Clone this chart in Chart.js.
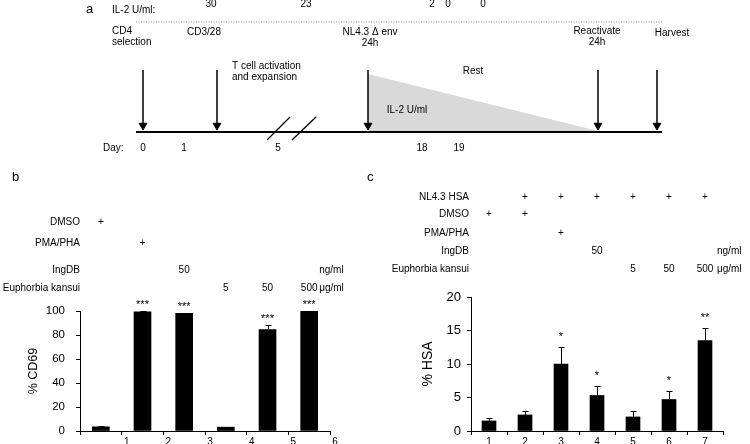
<!DOCTYPE html>
<html lang="en">
<head>
<meta charset="UTF-8">
<title>CD69 / HSA</title>
<script src="https://cdn.jsdelivr.net/npm/chart.js"></script>
<style>
  body { margin: 0; background: #fff; }
  .fig { position: relative; width: 750px; height: 444px; overflow: hidden; }
  canvas { position: absolute; }
  #panelA { left: 0; top: 0; }
  #panelB { left: 0; top: 160px; }
  #panelC { left: 360px; top: 160px; }
</style>
</head>
<body>
<div class="fig">
  <canvas id="panelA" width="750" height="160"></canvas>
  <canvas id="panelB" width="375" height="284"></canvas>
  <canvas id="panelC" width="390" height="284"></canvas>
</div>
<script>
// panel a - timeline
var events = ['CD4\nselection', 'CD3/28', 'NL4.3 \u0394 env\n24h', 'Reactivate\n24h', 'Harvest'];
var days = ['0', '1', '5', '18', '19'];
var il2Doses = ['30', '23', '2', '0', '0'];

// panel b - % CD69
var xTicksB = [1, 2, 3, 4, 5, 6];
var cd69 = [3.5, 99.4, 98, 3.2, 84.5, 100];
var cd69Err = [0.4, 0.4, 0.5, 0.4, 3.8, 0.2];
var sigB = ['', '***', '***', '', '***', '***'];
var dmsoB = ['+', '', '', '', '', ''];
var pmaB = ['', '+', '', '', '', ''];
var ingdbB = ['', '', '50', '', '', ''];
var kansuiB = ['', '', '', '5', '50', '500'];

// panel c - % HSA
var labelsC = ['1', '2', '3', '4', '5', '6', '7'];
var hsa = [1.5, 2.4, 10.0, 5.3, 2.1, 4.7, 13.5];
var hsaErr = [0.4, 0.6, 2.5, 1.4, 0.9, 1.2, 1.8];
var sigC = ['', '', '*', '*', '', '*', '**'];
var nl43C = ['', '+', '+', '+', '+', '+', '+'];
var dmsoC = ['+', '+', '', '', '', '', ''];
var pmaC = ['', '', '+', '', '', '', ''];
var ingdbC = ['', '', '', '50', '', '', ''];
var kansuiC = ['', '', '', '', '5', '50', '500'];

var FONT = '"Liberation Sans", Arial, sans-serif';

// schematic layout (units of a 750 x 160 drawing plane)
var eventX = [143, 217, 368, 598, 657];
var eventLabelAt = [[112, 31, 'left'], [204, 32, 'center'], [370, 32, 'center'], [597, 31, 'center'], [672, 33, 'center']];
var dayX = [143, 184, 278, 422, 459];
var il2X = [211, 306, 432, 448, 483];

function drawLines(ctx, text, x, y, align) {
    ctx.textAlign = align;
    text.split('\n').forEach(function(line, k) {
        ctx.fillText(line, x, y + k * 11.5);
    });
}

var schematicText = {
    id: 'schematicText',
    afterDraw: function(chart) {
        var ctx = chart.ctx, xs = chart.scales.x, ys = chart.scales.y;
        function put(text, x, y, align) {
            drawLines(ctx, text, xs.getPixelForValue(x), ys.getPixelForValue(y), align || 'center');
        }
        ctx.save();
        ctx.fillStyle = '#000';
        ctx.textBaseline = 'middle';
        ctx.font = '13px ' + FONT;
        put('a', 86, 9, 'left');
        ctx.font = '10px ' + FONT;
        put('IL-2 U/ml:', 112, 10, 'left');
        il2Doses.forEach(function(d, i) { put(d, il2X[i], 4); });
        events.forEach(function(e, i) { put(e, eventLabelAt[i][0], eventLabelAt[i][1], eventLabelAt[i][2]); });
        put('T cell activation\nand expansion', 232, 66, 'left');
        put('Rest', 473, 71);
        put('IL-2 U/ml', 407, 110);
        put('Day:', 103, 148, 'left');
        days.forEach(function(d, i) { put(d, dayX[i], 148); });
        ctx.restore();
    }
};

var schematicSets = [
    { data: [{x: 136, y: 132}, {x: 662, y: 132}], borderColor: '#000', borderWidth: 2 },
    { data: [{x: 136, y: 22}, {x: 662, y: 22}], borderColor: '#8a8a8a', borderWidth: 1, borderDash: [1, 1.5] },
    { data: [{x: 267, y: 140}, {x: 290, y: 117}], borderColor: '#000', borderWidth: 1.3 },
    { data: [{x: 292, y: 140}, {x: 316, y: 117}], borderColor: '#000', borderWidth: 1.3 }
];
eventX.forEach(function(x) {
    schematicSets.push({
        data: [{x: x, y: 70}, {x: x, y: 125.5}],
        borderColor: '#000', borderWidth: 1.5,
        pointRadius: [0, 4.5], pointStyle: 'triangle', pointRotation: 180,
        pointBackgroundColor: '#000', pointBorderColor: '#000', pointBorderWidth: 1
    });
});
// decaying IL-2 wedge
schematicSets.push({
    data: [{x: 368, y: 74}, {x: 598, y: 131}],
    borderWidth: 0, backgroundColor: '#d9d9d9', fill: {value: 131}, order: 10
});
schematicSets.forEach(function(d) {
    d.showLine = true;
    if (d.pointRadius === undefined) d.pointRadius = 0;
});

new Chart(document.getElementById('panelA'), {
    type: 'scatter',
    data: { datasets: schematicSets },
    options: {
        responsive: false,
        animation: false,
        layout: { padding: 0, autoPadding: false },
        plugins: { legend: { display: false }, tooltip: { enabled: false } },
        scales: {
            x: { type: 'linear', min: 0, max: 750, display: false },
            y: { type: 'linear', min: 0, max: 160, reverse: true, display: false }
        }
    },
    plugins: [schematicText]
});

// error bars + significance stars
function errorBars(values, errs, stars, gap) {
    return {
        id: 'errorBars',
        afterDatasetsDraw: function(chart) {
            var ctx = chart.ctx, y = chart.scales.y;
            var bars = chart.getDatasetMeta(0).data;
            ctx.save();
            ctx.strokeStyle = '#000';
            ctx.fillStyle = '#000';
            ctx.lineWidth = 1;
            ctx.font = '11px ' + FONT;
            ctx.textAlign = 'center';
            ctx.textBaseline = 'alphabetic';
            bars.forEach(function(bar, i) {
                var x = Math.round(bar.x) + 0.5;
                var top = Math.round(y.getPixelForValue(values[i] + errs[i])) + 0.5;
                ctx.beginPath();
                ctx.moveTo(x, bar.y);
                ctx.lineTo(x, top);
                ctx.moveTo(x - 3, top);
                ctx.lineTo(x + 3, top);
                ctx.stroke();
                if (stars[i]) ctx.fillText(stars[i], bar.x, top - gap);
            });
            ctx.restore();
        }
    };
}

// treatment table above the bars
function treatmentTable(rows, rowY, labelX, unitGap, panelLetter, letterX) {
    return {
        id: 'treatments',
        afterDraw: function(chart) {
            var ctx = chart.ctx;
            var bars = chart.getDatasetMeta(0).data;
            var lastX = bars[bars.length - 1].x;
            ctx.save();
            ctx.fillStyle = '#000';
            ctx.textBaseline = 'middle';
            ctx.font = '13px ' + FONT;
            ctx.textAlign = 'left';
            ctx.fillText(panelLetter, letterX, 17);
            ctx.font = '10px ' + FONT;
            rows.forEach(function(row, r) {
                ctx.textAlign = 'right';
                ctx.fillText(row.name, labelX, rowY[r]);
                ctx.textAlign = 'center';
                row.cells.forEach(function(c, i) {
                    if (c) ctx.fillText(c, bars[i].x, rowY[r]);
                });
                if (row.unit) {
                    ctx.textAlign = 'left';
                    ctx.fillText(row.unit, lastX + unitGap, rowY[r]);
                }
            });
            ctx.restore();
        }
    };
}

function axisLook(extra) {
    var base = {
        border: { display: true, color: '#000', width: 1 },
        grid: { display: true, drawOnChartArea: false, color: '#000', tickLength: 4 },
        ticks: { color: '#000' }
    };
    return Object.assign(base, extra);
}

function fixY(width) {
    return function(s) {
        s.width = width;
        s.paddingTop = 0;
        s.paddingBottom = 0;
    };
}

// panel b
new Chart(document.getElementById('panelB'), {
    type: 'bar',
    data: {
        datasets: [{
            data: cd69.map(function(v, i) { return {x: i + 0.5, y: v}; }),
            backgroundColor: '#000',
            barThickness: 17
        }]
    },
    options: {
        responsive: false,
        animation: false,
        layout: { padding: { left: 22, right: 45, top: 151, bottom: 0 } },
        plugins: { legend: { display: false }, tooltip: { enabled: false } },
        scales: {
            x: Object.assign(axisLook(), {
                type: 'linear', min: 0, max: xTicksB[xTicksB.length - 1], offset: false,
                grid: { display: true, drawOnChartArea: false, color: '#000', tickLength: 4, offset: false },
                ticks: {
                    color: '#000', stepSize: 1, padding: 1, labelOffset: 5,
                    font: { family: FONT, size: 10 },
                    callback: function(v) { return xTicksB.indexOf(v) >= 0 ? String(v) : ''; }
                },
                afterFit: function(s) { s.height = 13; }
            }),
            y: Object.assign(axisLook(), {
                min: 0, max: 100,
                ticks: { color: '#000', stepSize: 20, padding: 11, font: { family: FONT, size: 11.5 } },
                title: { display: true, text: '% CD69', color: '#000', font: { family: FONT, size: 12.5 }, padding: { top: 4, bottom: 4 } },
                afterFit: fixY(58)
            })
        }
    },
    plugins: [
        errorBars(cd69, cd69Err, sigB, 4),
        treatmentTable([
            { name: 'DMSO', cells: dmsoB },
            { name: 'PMA/PHA', cells: pmaB },
            { name: 'IngDB', cells: ingdbB, unit: 'ng/ml' },
            { name: 'Euphorbia kansui', cells: kansuiB, unit: '\u03bcg/ml' }
        ], [62, 83, 110, 128], 80, 10, 'b', 12)
    ]
});

// panel c
new Chart(document.getElementById('panelC'), {
    type: 'bar',
    data: {
        labels: labelsC,
        datasets: [{ data: hsa, backgroundColor: '#000', barThickness: 14 }]
    },
    options: {
        responsive: false,
        animation: false,
        layout: { padding: { left: 56, right: 27, top: 137, bottom: 0 } },
        plugins: { legend: { display: false }, tooltip: { enabled: false } },
        scales: {
            x: Object.assign(axisLook(), {
                grid: { display: true, drawOnChartArea: false, color: '#000', tickLength: 4, offset: true },
                ticks: { color: '#000', padding: 1, font: { family: FONT, size: 10 } },
                afterFit: function(s) { s.height = 13; }
            }),
            y: Object.assign(axisLook(), {
                min: 0, max: 20,
                ticks: { color: '#000', stepSize: 5, padding: 6, font: { family: FONT, size: 13 } },
                title: { display: true, text: '% HSA', color: '#000', font: { family: FONT, size: 14 }, padding: { top: 4, bottom: 4 } },
                afterFit: fixY(55)
            })
        }
    },
    plugins: [
        errorBars(hsa, hsaErr, sigC, 8),
        treatmentTable([
            { name: 'NL4.3 HSA', cells: nl43C },
            { name: 'DMSO', cells: dmsoC },
            { name: 'PMA/PHA', cells: pmaC },
            { name: 'IngDB', cells: ingdbC, unit: 'ng/ml' },
            { name: 'Euphorbia kansui', cells: kansuiC, unit: '\u03bcg/ml' }
        ], [37, 54, 73, 91, 109], 109, 12, 'c', 7)
    ]
});
</script>
</body>
</html>
